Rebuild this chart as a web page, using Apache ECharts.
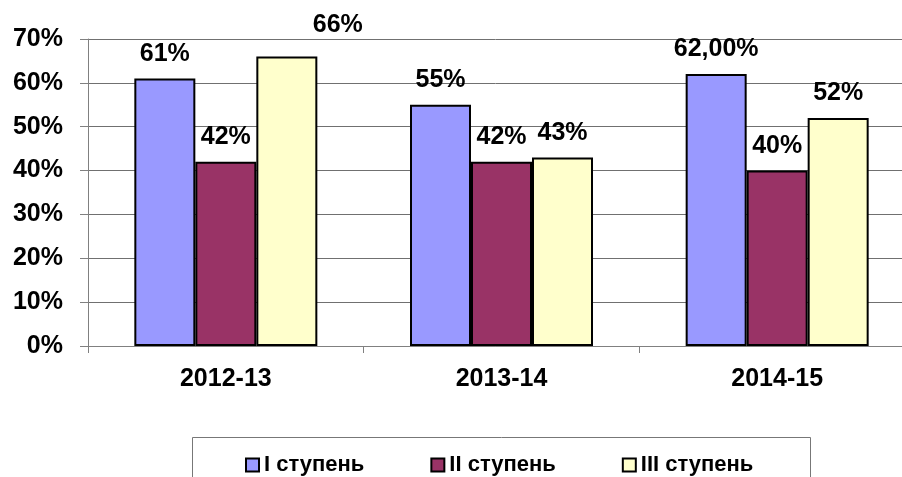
<!DOCTYPE html>
<html>
<head>
<meta charset="utf-8">
<script src="https://cdn.jsdelivr.net/npm/echarts@6/dist/echarts.min.js"></script>
<style>
  html, body { margin: 0; padding: 0; background: #fff; }
  #chart { width: 902px; height: 477px; }
</style>
</head>
<body>
<div id="chart"></div>
<script>
// categories and values (percent)
var years = ['2012-13', '2013-14', '2014-15'];
var stage1 = [61, 55, 62];
var stage2 = [42, 42, 40];
var stage3 = [66, 43, 52];
var seriesNames = ['I ступень', 'II ступень', 'III ступень'];
// how each value label is printed
var stage1Labels = ['61%', '55%', '62,00%'];
var stage2Labels = ['42%', '42%', '40%'];
var stage3Labels = ['66%', '43%', '52%'];

var FONT = '"Liberation Sans", Arial, sans-serif';

var chart = echarts.init(document.getElementById('chart'));

function makeSeries(name, values, labels, color) {
  return {
    name: name,
    type: 'bar',
    barWidth: 61,
    barGap: '0%',
    itemStyle: { color: color, borderColor: '#000', borderWidth: 2 },
    label: {
      show: true,
      position: 'top',
      distance: 12,
      color: '#000',
      fontFamily: FONT,
      fontWeight: 'bold',
      fontSize: 25,
      formatter: function (p) { return labels[p.dataIndex]; }
    },
    data: values.map(function (v, i) {
      // "66%" label was moved off its bar in the original
      if (name === 'III ступень' && i === 0) {
        return { value: v, label: { offset: [51, -7] } };
      }
      return v;
    })
  };
}

chart.setOption({
  animation: false,
  grid: { left: 88, width: 827, top: 39, bottom: 131, outerBoundsMode: 'none' },
  graphic: [{
    type: 'rect',
    shape: { x: 192.5, y: 437.5, width: 618, height: 60 },
    style: { fill: '#fff', stroke: '#777', lineWidth: 1 },
    z: -1
  }],
  legend: {
    left: 240,
    top: 449,
    itemWidth: 13,
    itemHeight: 13,
    itemGap: 66,
    icon: 'rect',
    itemStyle: { borderColor: '#000', borderWidth: 2 },
    textStyle: { fontFamily: FONT, fontWeight: 'bold', fontSize: 22, color: '#000' },
    data: seriesNames
  },
  xAxis: {
    type: 'category',
    data: years,
    axisLine: { lineStyle: { color: '#808080', width: 1 } },
    axisTick: { show: true, length: 7, lineStyle: { color: '#808080' } },
    axisLabel: { margin: 21, color: '#000', fontFamily: FONT, fontWeight: 'bold', fontSize: 25 }
  },
  yAxis: {
    type: 'value',
    min: 0,
    max: 70,
    interval: 10,
    axisLine: { show: true, lineStyle: { color: '#808080', width: 1 } },
    axisTick: { show: true, length: 8, lineStyle: { color: '#808080' } },
    splitLine: { show: true, lineStyle: { color: '#707070', width: 1 } },
    axisLabel: {
      margin: 25,
      color: '#000',
      fontFamily: FONT,
      fontWeight: 'bold',
      fontSize: 25,
      formatter: '{value}%'
    }
  },
  series: [
    makeSeries(seriesNames[0], stage1, stage1Labels, '#9999FF'),
    makeSeries(seriesNames[1], stage2, stage2Labels, '#993366'),
    makeSeries(seriesNames[2], stage3, stage3Labels, '#FFFFCC')
  ]
});
</script>
</body>
</html>
